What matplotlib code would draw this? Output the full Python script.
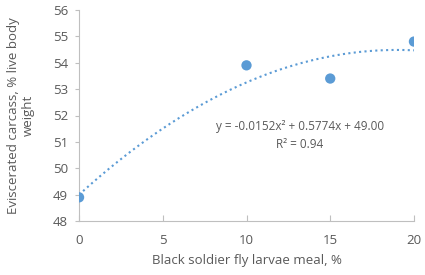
import numpy as np
import matplotlib
matplotlib.use("Agg")
import matplotlib.pyplot as plt

# Data
meal_pct = [0, 10, 15, 20]
carcass = [48.9, 53.9, 53.4, 54.8]

# trendline coefficients from the equation label
coef = [-0.0152, 0.5774, 49.00]

plt.rcParams["font.family"] = ["Open Sans", "DejaVu Sans"]
grey = "#595959"
blue = "#5B9BD5"

fig = plt.figure(figsize=(4.25, 2.75), dpi=100)
ax = fig.add_axes([0.186, 0.196, 0.788, 0.768])

xs = np.linspace(0, 20, 200)
ax.plot(xs, np.polyval(coef, xs), linestyle=(0, (1, 1.6)), color=blue, linewidth=1.5)
ax.scatter(meal_pct, carcass, s=55, color=blue, zorder=3, edgecolors="none")

ax.set_xlim(0, 20)
ax.set_ylim(48, 56)
ax.set_xticks([0, 5, 10, 15, 20])
ax.set_yticks(range(48, 57))

for s in ["top", "right"]:
    ax.spines[s].set_visible(False)
for s in ["left", "bottom"]:
    ax.spines[s].set_color("#BFBFBF")
ax.tick_params(axis="x", direction="in", length=4, color="#BFBFBF", labelcolor=grey, labelsize=9.5, pad=9)
ax.tick_params(axis="y", direction="out", length=3, color="#BFBFBF", labelcolor=grey, labelsize=9.5, pad=5)

ax.set_xlabel("Black soldier fly larvae meal, %", color=grey, fontsize=9.5, labelpad=5)
ax.set_ylabel("Eviscerated carcass, % live body\nweight", color=grey, fontsize=9.5, labelpad=13)

ax.text(13.2, 51.6, "y = -0.0152x² + 0.5774x + 49.00", color=grey, fontsize=8.5, ha="center", va="center")
ax.text(13.2, 50.92, "R² = 0.94", color=grey, fontsize=8.5, ha="center", va="center")

fig.savefig("out.png", dpi=100)
